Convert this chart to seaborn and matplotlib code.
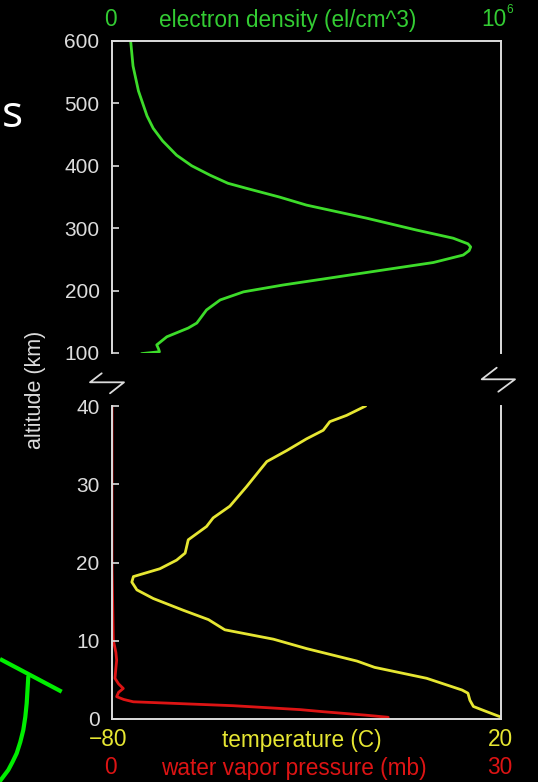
import matplotlib
matplotlib.use("Agg")
import matplotlib.pyplot as plt
from matplotlib.lines import Line2D
import seaborn as sns
import pandas as pd

# ---------------- data ----------------
# electron density profile (ionosphere)
alt_e = [600, 560, 520, 480, 460, 440, 417, 400, 385, 372, 364, 350, 337, 316, 297,
         284, 275, 270, 264, 257, 245, 233, 221, 209, 198, 185, 169, 148, 140, 126,
         113, 106, 102, 99]
dens_e = [48000, 54000, 68000, 90000, 106000, 130000, 166000, 205000, 252000, 298000,
          345000, 430000, 500000, 655000, 783000, 877000, 915000, 922000, 918000,
          903000, 826000, 697000, 569000, 440000, 338000, 278000, 243000, 218000,
          196000, 141000, 115000, 120000, 122000, 76000]

# temperature profile (lower atmosphere)
alt_t = [40.0, 38.8, 38.0, 36.9, 35.8, 34.3, 32.9, 31.8, 29.7, 27.2, 25.7, 24.6, 22.9,
         21.2, 20.3, 19.2, 18.2, 17.5, 16.5, 15.4, 13.9, 12.7, 11.4, 10.2, 9.0, 7.4,
         6.6, 5.2, 3.7, 3.3, 2.4, 1.6, 1.0, 0.3]
temp_c = [-14.8, -19.7, -24.0, -25.7, -30.0, -35.1, -40.2, -42.0, -45.4, -49.7, -54.0,
          -55.7, -60.4, -61.2, -63.4, -67.7, -74.5, -74.9, -73.6, -69.4, -61.7, -55.2,
          -51.0, -38.5, -30.0, -17.0, -12.5, 0.9, 10.0, 11.5, 12.0, 12.9, 16.0, 19.7]

# water vapor pressure profile
alt_w = [40.0, 20.0, 10.1, 8.5, 7.5, 6.5, 5.2, 4.5, 3.9, 3.4, 2.85, 2.5, 2.2, 1.7,
         1.2, 0.93, 0.5, 0.22]
vap_mb = [0.0, 0.0, 0.1, 0.3, 0.36, 0.3, 0.23, 0.5, 0.87, 0.5, 0.36, 0.9, 1.64,
          9.35, 14.5, 16.3, 19.5, 21.3]

upper_ticks = [100, 200, 300, 400, 500, 600]
lower_ticks = [0, 10, 20, 30, 40]

# ---------------- style ----------------
sns.set_theme(style="dark")
plt.rcParams["font.family"] = ["Liberation Sans", "DejaVu Sans"]
BG = "black"
FG = "#dcdcdc"
GREEN_LINE = "#3ddc2a"
GREEN_TXT = "#33cc33"
YELLOW = "#e6e632"
RED = "#dd1414"

W, H = 538, 782
fig = plt.figure(figsize=(W / 100, H / 100), dpi=100, facecolor=BG)


def fx(x):
    return x / W


def fy(y):
    return 1 - y / H


L, R = 112, 501
ax_up = fig.add_axes([fx(L), fy(353), (R - L) / W, (353 - 41) / H])
ax_lo = fig.add_axes([fx(L), fy(719), (R - L) / W, (719 - 406) / H])

# upper panel: electron density
df_e = pd.DataFrame({"alt": alt_e, "dens": dens_e})
sns.lineplot(data=df_e, x="dens", y="alt", sort=False, estimator=None,
             color=GREEN_LINE, lw=2.0, ax=ax_up)
ax_up.set_xlim(0, 1e6)
ax_up.set_ylim(100, 600)
ax_up.set_yticks(upper_ticks)
ax_up.spines["bottom"].set_visible(False)

# lower panel: temperature + vapor pressure (vapor on a twin x-axis drawn underneath)
df_t = pd.DataFrame({"alt": alt_t, "temp": temp_c})
sns.lineplot(data=df_t, x="temp", y="alt", sort=False, estimator=None,
             color=YELLOW, lw=2.0, ax=ax_lo)
ax_lo.set_xlim(-80, 20)
ax_lo.set_ylim(0, 40)
ax_lo.set_yticks(lower_ticks)
ax_lo.spines["top"].set_visible(False)

ax_w = ax_lo.twiny()
df_w = pd.DataFrame({"alt": alt_w, "vap": vap_mb})
sns.lineplot(data=df_w, x="vap", y="alt", sort=False, estimator=None,
             color=RED, lw=2.0, ax=ax_w)
ax_w.set_xlim(0, 30)
ax_w.set_ylim(0, 40)
for s in ax_w.spines.values():
    s.set_visible(False)
ax_w.set_xticks([])
ax_w.set_xlabel("")
ax_w.set_ylabel("")
ax_w.grid(False)
ax_w.set_facecolor(BG)
ax_lo.set_facecolor("none")
ax_w.set_zorder(ax_lo.get_zorder() - 1)

for ax in (ax_up, ax_lo):
    ax.grid(False)
    ax.set_xticks([])
    ax.set_xlabel("")
    ax.set_ylabel("")
    for s in ax.spines.values():
        s.set_color(FG)
        s.set_linewidth(1.4)
    ax.tick_params(axis="y", direction="in", length=5, width=1.2, color=FG,
                   labelcolor=FG, labelsize=15, pad=9, left=True, right=False)
ax_up.set_facecolor(BG)

# ---------------- axis texts ----------------
fs = 16.3
fig.text(fx(110), fy(19), "0", color=GREEN_TXT, fontsize=fs, ha="center", va="center")
fig.text(fx(288), fy(20), "electron density (el/cm^3)", color=GREEN_TXT, fontsize=fs,
         ha="center", va="center")
fig.text(fx(494), fy(19), "10", color=GREEN_TXT, fontsize=fs, ha="center", va="center")
fig.text(fx(510), fy(10), "6", color=GREEN_TXT, fontsize=8.5, ha="center", va="center")

fig.text(fx(108), fy(740), "\u221280", color=YELLOW, fontsize=fs, ha="center", va="center")
fig.text(fx(302), fy(741), "temperature (C)", color=YELLOW, fontsize=fs, ha="center",
         va="center")
fig.text(fx(500), fy(740), "20", color=YELLOW, fontsize=fs, ha="center", va="center")

fig.text(fx(110), fy(768), "0", color=RED, fontsize=fs, ha="center", va="center")
fig.text(fx(294), fy(768), "water vapor pressure (mb)", color=RED, fontsize=fs,
         ha="center", va="center")
fig.text(fx(500), fy(768), "30", color=RED, fontsize=fs, ha="center", va="center")

fig.text(fx(35), fy(390), "altitude (km)", color=FG, fontsize=15.5, rotation=90,
         ha="center", va="center")

# axis-break markers
brk_l = [(101.7, 373.3), (90, 382.3), (124, 382.3), (110, 393.3)]
brk_r = [(496.7, 367.7), (481.7, 379.3), (515, 379.3), (498.3, 391.7)]
for pts in (brk_l, brk_r):
    fig.add_artist(Line2D([fx(p[0]) for p in pts], [fy(p[1]) for p in pts],
                          color=FG, lw=1.3, transform=fig.transFigure))

# slide fragments visible at the left edge
fig.text(fx(2), fy(127), "s", color="white", fontsize=32, ha="left",
         va="baseline", family=["Open Sans", "DejaVu Sans"])
fig.add_artist(Line2D([fx(0), fx(61.7)], [fy(659), fy(691.7)], color="#00ee00",
                      lw=3.0, transform=fig.transFigure, solid_capstyle="butt"))
arc = [(28.3, 676.7), (27.5, 690), (26.7, 703.3), (25.3, 717), (23.3, 730),
       (20.3, 742), (16.7, 753.3), (12.5, 762), (8.3, 770), (0, 781)]
fig.add_artist(Line2D([fx(p[0]) for p in arc], [fy(p[1]) for p in arc],
                      color="#00ee00", lw=3.0, transform=fig.transFigure))

fig.savefig("out.png", dpi=100, facecolor=BG)
